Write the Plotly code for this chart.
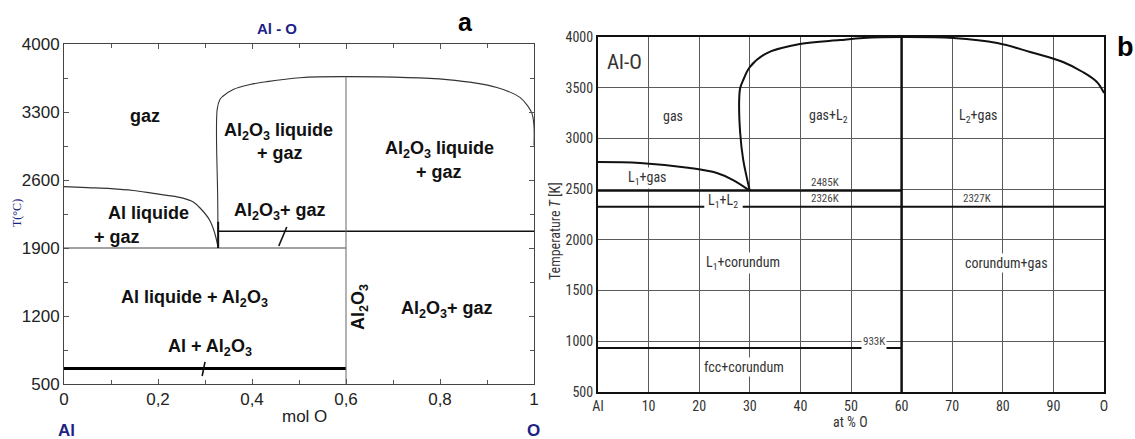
import plotly.graph_objects as go

W, H = 1135, 439

# ---------------- Panel a data (mol O, T in °C) ----------------
a_liq_x = [0.0, 0.05, 0.10, 0.147, 0.19, 0.219, 0.253, 0.275, 0.289, 0.310, 0.321, 0.328]
a_liq_T = [2531, 2521, 2511, 2492, 2462, 2442, 2413, 2373, 2314, 2186, 2048, 1900]

a_top_x = [0.328, 0.327, 0.326, 0.332, 0.338, 0.360, 0.396, 0.432, 0.502, 0.602, 0.815, 0.921, 0.970, 0.987, 0.996, 1.0, 1.0]
a_top_T = [1900, 2413, 3330, 3431, 3462, 3532, 3583, 3613, 3653, 3664, 3633, 3552, 3451, 3360, 3280, 3150, 2955]

a_eut_x = [0.0, 0.6]          # 1900 °C line
a_eut_T = [1900, 1900]
a_melt_x = [0.328, 1.0]       # Al2O3 melting line
a_melt_T = [2072, 2072]
a_al_x = [0.0, 0.6]           # Al melting line
a_al_T = [660, 660]
a_comp_x = [0.6, 0.6]         # Al2O3 composition
a_comp_T = [500, 3664]
a_stub_x = [0.328, 0.328]
a_stub_T = [1900, 2170]
a_slash1_x = [0.294, 0.300]
a_slash1_T = [582, 727]
a_slash2_x = [0.457, 0.474]
a_slash2_T = [1921, 2116]

a_xticks = [0, 0.2, 0.4, 0.6, 0.8, 1]
a_yticks = [500, 1200, 1900, 2600, 3300, 4000]

# ---------------- Panel b data (at% O, T in K) ----------------
b_L1_x = [0, 8.3, 18.2, 23.5, 26.7, 30]
b_L1_T = [2768, 2758, 2708, 2659, 2590, 2485]

b_L2_x = [30, 28.7, 28.1, 27.9, 28.1, 28.7, 30.0, 33.4, 39.9, 47.8, 52.4, 60,
          70.2, 78.9, 85.4, 91.9, 95.8, 98.6, 100]
b_L2_T = [2485, 2788, 3054, 3379, 3497, 3576, 3704, 3842, 3931, 3970, 3990, 4000,
          3990, 3941, 3852, 3754, 3655, 3556, 3448]

b_mono_x = [0, 60]; b_mono_T = [2485, 2485]
b_eutA_x = [0, 21]; b_eutA_T = [2326, 2326]
b_eutB_x = [28.6, 100]; b_eutB_T = [2326, 2326]
b_fcc_x = [0, 60]; b_fcc_T = [933, 933]
b_cor_x = [60, 60]; b_cor_T = [500, 4000]

b_xtickvals = [0, 10, 20, 30, 40, 50, 60, 70, 80, 90, 100]
b_xticktext = ["Al", "10", "20", "30", "40", "50", "60", "70", "80", "90", "O"]
b_yticks = [500, 1000, 1500, 2000, 2500, 3000, 3500, 4000]

FA = "Liberation Sans, Arial, sans-serif"
FB = "Liberation Sans Narrow, Arial Narrow, Roboto Condensed, Liberation Sans, sans-serif"
NAVY = "#1c2385"

fig = go.Figure()

def add_line(x, y, ax, color, width, shape="linear"):
    fig.add_trace(go.Scatter(x=x, y=y, mode="lines", xaxis=ax[0], yaxis=ax[1],
                             line=dict(color=color, width=width, shape=shape),
                             hoverinfo="skip", showlegend=False))

A = ("x", "y")
B = ("x2", "y2")
add_line(a_liq_x, a_liq_T, A, "#333", 1.2, "spline")
add_line(a_top_x, a_top_T, A, "#333", 1.1, "spline")
add_line(a_eut_x, a_eut_T, A, "#444", 1)
add_line(a_melt_x, a_melt_T, A, "#111", 1.6)
add_line(a_al_x, a_al_T, A, "#000", 3)
add_line(a_comp_x, a_comp_T, A, "#666", 1)
add_line(a_stub_x, a_stub_T, A, "#111", 2)
add_line(a_slash1_x, a_slash1_T, A, "#111", 1.6)
add_line(a_slash2_x, a_slash2_T, A, "#111", 1.6)

add_line(b_L1_x, b_L1_T, B, "#111", 2, "spline")
add_line(b_L2_x, b_L2_T, B, "#111", 2, "spline")
add_line(b_mono_x, b_mono_T, B, "#111", 2)
add_line(b_eutA_x, b_eutA_T, B, "#111", 2)
add_line(b_eutB_x, b_eutB_T, B, "#111", 2)
add_line(b_fcc_x, b_fcc_T, B, "#111", 2)
add_line(b_cor_x, b_cor_T, B, "#111", 2.5)

ann = []
def txt(x, y, t, size, ax=A, font=FA, color="#111", bg=None, angle=0, xanchor="center"):
    d = dict(x=x, y=y, xref=ax[0], yref=ax[1], text=t, showarrow=False,
             font=dict(family=font, size=size, color=color), textangle=angle,
             xanchor=xanchor, yanchor="middle")
    if bg:
        d["bgcolor"] = bg
        d["borderpad"] = 1
    ann.append(d)

def ptxt(px, py, t, size, font=FA, color="#111", angle=0):
    ann.append(dict(x=px / W, y=1 - py / H, xref="paper", yref="paper", text=t,
                    showarrow=False, font=dict(family=font, size=size, color=color),
                    textangle=angle, xanchor="center", yanchor="middle"))

# panel a labels
S = 18
txt(0.172, 3259, "<b>gaz</b>", S)
txt(0.457, 3104, "<b>Al<sub>2</sub>O<sub>3</sub> liquide</b>", S)
txt(0.46, 2878, "<b>+ gaz</b>", S)
txt(0.798, 2909, "<b>Al<sub>2</sub>O<sub>3</sub> liquide</b>", S)
txt(0.798, 2682, "<b>+ gaz</b>", S)
txt(0.179, 2260, "<b>Al liquide</b>", S)
txt(0.113, 2013, "<b>+ gaz</b>", S)
txt(0.46, 2271, "<b>Al<sub>2</sub>O<sub>3</sub>+ gaz</b>", S)
txt(0.277, 1385, "<b>Al liquide + Al<sub>2</sub>O<sub>3</sub></b>", S)
txt(0.311, 871, "<b>Al + Al<sub>2</sub>O<sub>3</sub></b>", S)
txt(0.63, 1293, "<b>Al<sub>2</sub>O<sub>3</sub></b>", S, angle=-90)
txt(0.815, 1262, "<b>Al<sub>2</sub>O<sub>3</sub>+ gaz</b>", S)

ptxt(277, 28, "<b>Al - O</b>", 15, color=NAVY)
ptxt(465, 22, "<b>a</b>", 25, color="#000")
ptxt(304, 416, "mol O", 17, color="#222")
ptxt(66, 430, "<b>Al</b>", 17, color=NAVY)
ptxt(533, 430, "<b>O</b>", 17, color=NAVY)
ptxt(17, 213, "T(°C)", 12, font="Liberation Serif, DejaVu Serif, serif", color=NAVY, angle=-90)

# panel b labels
SB = 14
GB = "#333"
txt(5.3, 3753, "Al-O", 21, B, FB, GB)
txt(14.8, 3221, "gas", SB, B, FB, GB)
txt(45.5, 3221, "gas+L<sub>2</sub>", SB, B, FB, GB)
txt(75.1, 3221, "L<sub>2</sub>+gas", SB, B, FB, GB)
txt(9.7, 2610, "L<sub>1</sub>+gas", SB, B, FB, GB, bg="white")
txt(24.7, 2385, "L<sub>1</sub>+L<sub>2</sub>", SB, B, FB, GB)
txt(28.7, 1772, "L<sub>1</sub>+corundum", SB, B, FB, GB, bg="white")
txt(80.8, 1772, "corundum+gas", SB, B, FB, GB, bg="white")
txt(28.9, 747, "fcc+corundum", SB, B, FB, GB, bg="white")
txt(44.9, 2565, "2485K", 11, B, FB, "#444")
txt(44.9, 2405, "2326K", 11, B, FB, "#444")
txt(74.9, 2405, "2327K", 11, B, FB, "#444")
txt(54.5, 1000, "933K", 11, B, FB, "#444", bg="white")

ptxt(1125, 47, "<b>b</b>", 27, color="#000")
ptxt(850, 422, "at % O", 14, font=FB, color=GB)
ptxt(555, 231, "Temperature <i>T</i> [K]", 14, font=FB, color=GB, angle=-90)

axA = dict(showgrid=False, zeroline=False, showline=True, linecolor="#444", linewidth=1,
           mirror="ticks", ticks="inside", ticklen=5, tickcolor="#555", automargin=False,
           tickfont=dict(family=FA, size=17, color="#222"))
axB = dict(showgrid=True, gridcolor="#5a5a5a", gridwidth=1, zeroline=False, showline=True,
           linecolor="#111", linewidth=2, mirror=True, ticks="", automargin=False,
           tickfont=dict(family=FB, size=14, color=GB))

fig.update_layout(
    width=W, height=H, margin=dict(l=0, r=0, t=0, b=0, autoexpand=False),
    paper_bgcolor="white", plot_bgcolor="white", separators=", ",
    showlegend=False, annotations=ann,
    xaxis=dict(axA, domain=[64 / W, 534 / W], range=[0, 1], anchor="y",
               tickmode="array", tickvals=a_xticks,
               minor=dict(ticks="inside", dtick=0.1, ticklen=4, tickcolor="#555")),
    yaxis=dict(axA, domain=[1 - 384 / H, 1 - 44 / H], range=[500, 4000], anchor="x",
               tickmode="array", tickvals=a_yticks,
               minor=dict(ticks="inside", tick0=500, dtick=350, ticklen=4, tickcolor="#555")),
    xaxis2=dict(axB, domain=[598 / W, 1104 / W], range=[0, 100], anchor="y2",
                tickmode="array", tickvals=b_xtickvals, ticktext=b_xticktext),
    yaxis2=dict(axB, domain=[1 - 392 / H, 1 - 37 / H], range=[500, 4000], anchor="x2",
                tickmode="array", tickvals=b_yticks),
)

fig.write_html("out.html", config={"displayModeBar": False},
               post_script="document.body.style.margin='0';document.body.style.overflow='hidden';")
